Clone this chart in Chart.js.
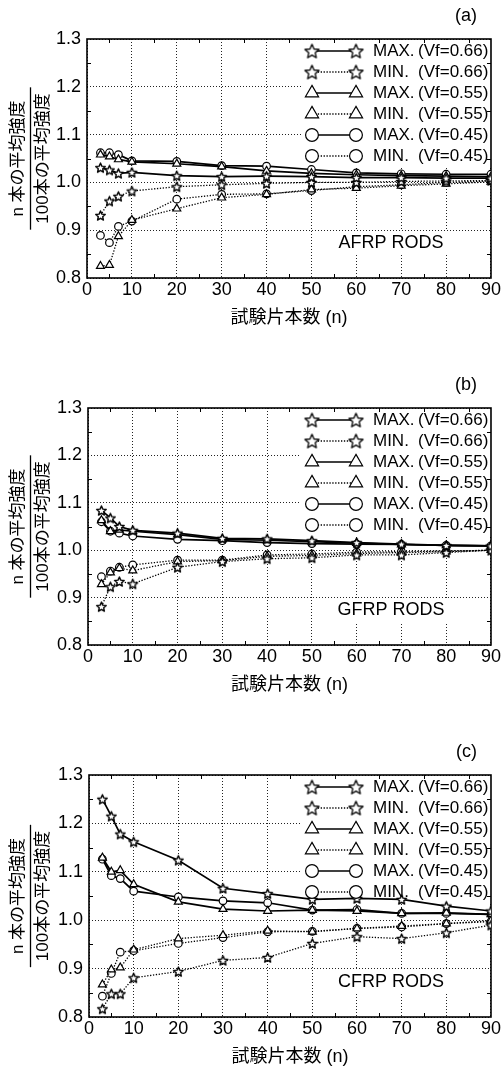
<!DOCTYPE html>
<html>
<head>
<meta charset="utf-8">
<script src="https://cdn.jsdelivr.net/npm/chart.js"></script>
<style>
  html, body { margin: 0; padding: 0; background: #fff; }
  body { width: 502px; height: 1071px; position: relative; overflow: hidden; }
  canvas { position: absolute; left: 0; }
</style>
</head>
<body>
<canvas id="panelA"></canvas>
<canvas id="panelB"></canvas>
<canvas id="panelC"></canvas>
<script>
// ---- data ----
const nValues = [3, 5, 7, 10, 20, 30, 40, 50, 60, 70, 80, 90];
const xTicks = [0, 10, 20, 30, 40, 50, 60, 70, 80, 90];
const yTicks = [0.8, 0.9, 1.0, 1.1, 1.2, 1.3];
const xMinorTicks = [5, 15, 25, 35, 45, 55, 65, 75, 85];
const yMinorTicks = [0.85, 0.95, 1.05, 1.15, 1.25];
const seriesLabels = ['MAX. (Vf=0.66)', 'MIN. (Vf=0.66)', 'MAX. (Vf=0.55)', 'MIN. (Vf=0.55)', 'MAX. (Vf=0.45)', 'MIN. (Vf=0.45)'];
const panelTags = ['(a)', '(b)', '(c)'];
const panelNames = ['AFRP RODS', 'GFRP RODS', 'CFRP RODS'];
const xTitle = '試験片本数 (n)';
const yTitle = ['n 本の平均強度', '100本の平均強度'];

const afrpMax66 = [1.031, 1.026, 1.019, 1.021, 1.014, 1.012, 1.013, 1.012, 1.010, 1.010, 1.009, 1.009];
const afrpMin66 = [0.931, 0.961, 0.971, 0.982, 0.991, 0.995, 0.998, 1.000, 1.000, 1.002, 1.003, 1.004];
const afrpMax55 = [1.058, 1.054, 1.048, 1.043, 1.039, 1.033, 1.024, 1.019, 1.016, 1.014, 1.013, 1.012];
const afrpMin55 = [0.825, 0.827, 0.887, 0.921, 0.945, 0.968, 0.975, 0.985, 0.988, 0.993, 0.997, 1.001];
const afrpMax45 = [1.062, 1.062, 1.058, 1.045, 1.044, 1.035, 1.034, 1.027, 1.020, 1.018, 1.017, 1.017];
const afrpMin45 = [0.889, 0.874, 0.908, 0.919, 0.965, 0.975, 0.976, 0.983, 0.991, 0.995, 1.000, 1.003];

const gfrpMax66 = [1.084, 1.068, 1.050, 1.042, 1.036, 1.025, 1.024, 1.020, 1.016, 1.013, 1.010, 1.009];
const gfrpMin66 = [0.881, 0.923, 0.934, 0.929, 0.964, 0.976, 0.982, 0.984, 0.990, 0.990, 0.995, 1.000];
const gfrpMax55 = [1.063, 1.040, 1.043, 1.040, 1.033, 1.023, 1.021, 1.018, 1.015, 1.012, 1.010, 1.009];
const gfrpMin55 = [0.928, 0.953, 0.962, 0.957, 0.976, 0.978, 0.987, 0.989, 0.993, 0.995, 0.997, 1.000];
const gfrpMax45 = [1.060, 1.040, 1.036, 1.030, 1.023, 1.020, 1.016, 1.014, 1.013, 1.012, 1.010, 1.009];
const gfrpMin45 = [0.944, 0.956, 0.964, 0.969, 0.979, 0.979, 0.990, 0.992, 0.996, 0.997, 0.998, 1.000];

const cfrpMax66 = [1.250, 1.215, 1.178, 1.162, 1.124, 1.066, 1.055, 1.043, 1.045, 1.043, 1.029, 1.019];
const cfrpMin66 = [0.817, 0.848, 0.848, 0.881, 0.894, 0.917, 0.923, 0.952, 0.966, 0.962, 0.974, 0.990];
const cfrpMax55 = [1.129, 1.100, 1.103, 1.074, 1.038, 1.023, 1.019, 1.021, 1.019, 1.014, 1.015, 1.012];
const cfrpMin55 = [0.867, 0.898, 0.902, 0.939, 0.962, 0.969, 0.978, 0.976, 0.983, 0.988, 0.993, 0.999];
const cfrpMax45 = [1.126, 1.092, 1.086, 1.060, 1.048, 1.040, 1.036, 1.021, 1.022, 1.014, 1.014, 1.012];
const cfrpMin45 = [0.843, 0.890, 0.934, 0.937, 0.952, 0.964, 0.976, 0.977, 0.983, 0.986, 0.993, 0.997];

const panelSeries = [
  [afrpMax66, afrpMin66, afrpMax55, afrpMin55, afrpMax45, afrpMin45],
  [gfrpMax66, gfrpMin66, gfrpMax55, gfrpMin55, gfrpMax45, gfrpMin45],
  [cfrpMax66, cfrpMin66, cfrpMax55, cfrpMin55, cfrpMax45, cfrpMin45]
];

// ---- layout & style ----
const panelBoxes = [
  { id: 'panelA', top: 0,   plotTop: 39, plotBottom: 278, left: 87 },
  { id: 'panelB', top: 350, plotTop: 58, plotBottom: 295, left: 88 },
  { id: 'panelC', top: 710, plotTop: 65, plotBottom: 307, left: 89 }
];
const W = 502;
const RIGHT_PAD = 10;
const X_AXIS_H = 52;
const FAMILY = '"Liberation Sans", Arial, "Noto Sans CJK JP", sans-serif';

const solid = [];
const dotted = [1.3, 1.6];
const seriesStyle = [
  { marker: 'star', dash: solid, width: 1.7 },
  { marker: 'star', dash: dotted, width: 1.3 },
  { marker: 'triangle', dash: solid, width: 1.7 },
  { marker: 'triangle', dash: dotted, width: 1.3 },
  { marker: 'circle', dash: solid, width: 1.7 },
  { marker: 'circle', dash: dotted, width: 1.3 }
];

function makeStar(r, lw) {
  const size = 2 * Math.ceil(r + 2 * lw + 2) + 1;
  const c = document.createElement('canvas');
  c.width = size; c.height = size;
  const g = c.getContext('2d');
  g.translate(size / 2, size / 2 + r * 0.1);
  g.beginPath();
  for (let i = 0; i < 10; i++) {
    const rr = i % 2 ? r * 0.46 : r;
    const a = -Math.PI / 2 + i * Math.PI / 5;
    g.lineTo(rr * Math.cos(a), rr * Math.sin(a));
  }
  g.closePath();
  g.fillStyle = '#fff';
  g.fill();
  g.lineJoin = 'round';
  g.lineWidth = lw;
  g.strokeStyle = '#000';
  g.stroke();
  return c;
}

const starSmall = makeStar(5, 1.4);
const starLarge = makeStar(7.4, 1.3);
const pointLook = {
  star: { style: starSmall, radius: 5 },
  triangle: { style: 'triangle', radius: 4.6 },
  circle: { style: 'circle', radius: 3.8 }
};
const legendLook = {
  star: { style: starLarge, radius: 7 },
  triangle: { style: 'triangle', radius: 7.6 },
  circle: { style: 'circle', radius: 6.4 }
};

function drawMarker(ctx, look, x, y) {
  ctx.save();
  ctx.fillStyle = '#fff';
  ctx.strokeStyle = '#000';
  ctx.lineWidth = 1.2;
  ctx.setLineDash([]);
  if (Chart.helpers && Chart.helpers.drawPoint) {
    Chart.helpers.drawPoint(ctx, { pointStyle: look.style, radius: look.radius, borderWidth: 1.2, rotation: 0 }, x, y);
  } else if (typeof look.style !== 'string') {
    ctx.drawImage(look.style, x - look.style.width / 2, y - look.style.height / 2);
  } else {
    ctx.beginPath();
    ctx.arc(x, y, look.radius, 0, Math.PI * 2);
    ctx.fill(); ctx.stroke();
  }
  ctx.restore();
}

// legend, frame, minor ticks, tag and material name
const decorPlugin = {
  id: 'decor',
  beforeDatasetsDraw(chart, args, opts) {
    const { ctx, chartArea: ca, scales } = chart;
    ctx.save();
    ctx.fillStyle = '#fff';
    ctx.fillRect(ca.right - 190, ca.top + 1, 190, 127);
    ctx.font = '18px ' + FAMILY;
    const w = ctx.measureText(opts.name).width;
    ctx.fillRect(ca.right - 100 - w / 2 - 6, ca.bottom - 35 - 12, w + 12, 24);
    ctx.strokeStyle = '#000';
    ctx.lineWidth = 1;
    ctx.beginPath();
    xMinorTicks.forEach(v => {
      const x = Math.round(scales.x.getPixelForValue(v)) + 0.5;
      ctx.moveTo(x, ca.bottom); ctx.lineTo(x, ca.bottom - 4);
      ctx.moveTo(x, ca.top); ctx.lineTo(x, ca.top + 4);
    });
    yMinorTicks.forEach(v => {
      const y = Math.round(scales.y.getPixelForValue(v)) + 0.5;
      ctx.moveTo(ca.left, y); ctx.lineTo(ca.left + 4, y);
      ctx.moveTo(ca.right, y); ctx.lineTo(ca.right - 4, y);
    });
    ctx.stroke();
    ctx.lineWidth = 1.6;
    ctx.strokeRect(ca.left, ca.top, ca.right - ca.left, ca.bottom - ca.top);
    ctx.restore();
  },
  afterDatasetsDraw(chart, args, opts) {
    const { ctx, chartArea: ca } = chart;
    ctx.save();
    chart.data.datasets.forEach((ds, i) => {
      const y = ca.top + 12 + i * 21;
      const x1 = ca.right - 179;
      const x2 = ca.right - 135;
      ctx.strokeStyle = '#000';
      ctx.lineWidth = ds.borderWidth;
      ctx.setLineDash(ds.borderDash);
      ctx.beginPath();
      ctx.moveTo(x1, y);
      ctx.lineTo(x2, y);
      ctx.stroke();
      ctx.setLineDash([]);
      drawMarker(ctx, legendLook[ds.marker], x1, y);
      drawMarker(ctx, legendLook[ds.marker], x2, y);
      const cut = ds.label.indexOf(' ');
      ctx.fillStyle = '#000';
      ctx.font = '17px ' + FAMILY;
      ctx.textAlign = 'left';
      ctx.textBaseline = 'middle';
      ctx.fillText(ds.label.slice(0, cut), ca.right - 118, y);
      ctx.fillText(ds.label.slice(cut + 1), ca.right - 73, y);
    });
    ctx.font = '18px ' + FAMILY;
    ctx.fillStyle = '#000';
    ctx.textBaseline = 'middle';
    ctx.textAlign = 'center';
    ctx.fillText(opts.name, ca.right - 100, ca.bottom - 35);
    ctx.textAlign = 'right';
    ctx.fillText(opts.tag, ca.right - 14, ca.top - 23);
    ctx.restore();
  },
  afterDraw(chart) {
    // fraction bar of the y title
    const { ctx, chartArea: ca } = chart;
    const ys = chart.scales.y;
    ctx.save();
    ctx.font = '17px ' + FAMILY;
    const len = Math.max(...yTitle.map(t => ctx.measureText(t).width)) + 12;
    const x = ys.left + 5.5 + 25;
    const cy = (ca.top + ca.bottom) / 2;
    ctx.strokeStyle = '#000';
    ctx.lineWidth = 1.3;
    ctx.beginPath();
    ctx.moveTo(x, cy - len / 2);
    ctx.lineTo(x, cy + len / 2);
    ctx.stroke();
    ctx.restore();
  }
};

function buildChart(p) {
  const box = panelBoxes[p];
  const canvas = document.getElementById(box.id);
  canvas.width = W;
  canvas.height = box.plotBottom + X_AXIS_H;
  canvas.style.top = box.top + 'px';

  const datasets = panelSeries[p].map((vals, i) => {
    const st = seriesStyle[i];
    const look = pointLook[st.marker];
    return {
      label: seriesLabels[i],
      marker: st.marker,
      data: nValues.map((n, k) => ({ x: n, y: vals[k] })),
      borderColor: '#000',
      borderWidth: st.width,
      borderDash: st.dash,
      pointStyle: look.style,
      pointRadius: look.radius,
      pointBackgroundColor: '#fff',
      pointBorderColor: '#000',
      pointBorderWidth: 1.2,
      tension: 0,
      fill: false
    };
  });

  const grid = { color: '#222', lineWidth: 1, drawTicks: false };
  return new Chart(canvas.getContext('2d'), {
    type: 'line',
    data: { datasets },
    options: {
      responsive: false,
      animation: false,
      events: [],
      layout: { padding: { top: box.plotTop, right: RIGHT_PAD, left: 0, bottom: 0 } },
      plugins: {
        legend: { display: false },
        tooltip: { enabled: false },
        decor: { name: panelNames[p], tag: panelTags[p] }
      },
      scales: {
        x: {
          type: 'linear',
          min: 0,
          max: 90,
          grid,
          border: { display: false, dash: [1, 2] },
          afterBuildTicks: s => { s.ticks = xTicks.map(v => ({ value: v })); },
          afterFit: s => { s.height = X_AXIS_H; },
          ticks: { color: '#000', padding: 1, font: { family: FAMILY, size: 18 } },
          title: {
            display: true,
            text: xTitle,
            color: '#000',
            padding: { top: 0, bottom: 1 },
            font: { family: FAMILY, size: 18 }
          }
        },
        y: {
          type: 'linear',
          min: 0.8,
          max: 1.3,
          grid,
          border: { display: false, dash: [1, 2] },
          afterBuildTicks: s => { s.ticks = yTicks.map(v => ({ value: v })); },
          afterFit: s => { s.width = box.left; },
          ticks: {
            color: '#000',
            padding: 6,
            font: { family: FAMILY, size: 18 },
            callback: v => Number(v).toFixed(1)
          },
          title: {
            display: true,
            text: yTitle,
            color: '#000',
            padding: { top: 5.5, bottom: 0 },
            font: { family: FAMILY, size: 17, lineHeight: '25px' }
          }
        }
      }
    },
    plugins: [decorPlugin]
  });
}

[0, 1, 2].forEach(buildChart);
</script>
</body>
</html>
